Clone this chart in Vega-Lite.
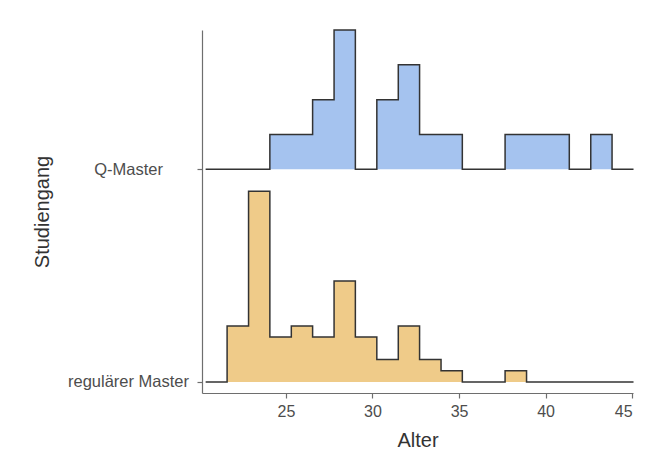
{
  "$schema": "https://vega.github.io/schema/vega-lite/v6.json",
  "width": 431,
  "height": 363,
  "autosize": {"type": "none"},
  "padding": {"left": 202, "top": 30, "right": 14, "bottom": 75},
  "background": "white",
  "config": {
    "view": {"stroke": null},
    "font": "Liberation Sans",
    "axis": {
      "grid": false,
      "domainColor": "#6e6e6e",
      "domainWidth": 1.2,
      "tickColor": "#6e6e6e",
      "tickWidth": 1.2,
      "labelColor": "#4d4d4d",
      "titleColor": "#333333",
      "labelFont": "Liberation Sans",
      "titleFont": "Liberation Sans",
      "labelFontSize": 16,
      "titleFontSize": 20,
      "titleFontWeight": "normal"
    }
  },
  "datasets": {
    "q": [
      {"Studiengang": "Q-Master", "Alter": 20.36, "Anzahl": 0},
      {"Studiengang": "Q-Master", "Alter": 21.60, "Anzahl": 0},
      {"Studiengang": "Q-Master", "Alter": 22.84, "Anzahl": 0},
      {"Studiengang": "Q-Master", "Alter": 24.07, "Anzahl": 1},
      {"Studiengang": "Q-Master", "Alter": 25.31, "Anzahl": 1},
      {"Studiengang": "Q-Master", "Alter": 26.54, "Anzahl": 2},
      {"Studiengang": "Q-Master", "Alter": 27.78, "Anzahl": 4},
      {"Studiengang": "Q-Master", "Alter": 29.01, "Anzahl": 0},
      {"Studiengang": "Q-Master", "Alter": 30.25, "Anzahl": 2},
      {"Studiengang": "Q-Master", "Alter": 31.49, "Anzahl": 3},
      {"Studiengang": "Q-Master", "Alter": 32.72, "Anzahl": 1},
      {"Studiengang": "Q-Master", "Alter": 33.96, "Anzahl": 1},
      {"Studiengang": "Q-Master", "Alter": 35.19, "Anzahl": 0},
      {"Studiengang": "Q-Master", "Alter": 36.43, "Anzahl": 0},
      {"Studiengang": "Q-Master", "Alter": 37.66, "Anzahl": 1},
      {"Studiengang": "Q-Master", "Alter": 38.90, "Anzahl": 1},
      {"Studiengang": "Q-Master", "Alter": 40.13, "Anzahl": 1},
      {"Studiengang": "Q-Master", "Alter": 41.37, "Anzahl": 0},
      {"Studiengang": "Q-Master", "Alter": 42.61, "Anzahl": 1},
      {"Studiengang": "Q-Master", "Alter": 43.84, "Anzahl": 0},
      {"Studiengang": "Q-Master", "Alter": 45.08, "Anzahl": 0}
    ],
    "r": [
      {"Studiengang": "regulärer Master", "Alter": 20.36, "Anzahl": 0},
      {"Studiengang": "regulärer Master", "Alter": 21.60, "Anzahl": 5},
      {"Studiengang": "regulärer Master", "Alter": 22.84, "Anzahl": 17},
      {"Studiengang": "regulärer Master", "Alter": 24.07, "Anzahl": 4},
      {"Studiengang": "regulärer Master", "Alter": 25.31, "Anzahl": 5},
      {"Studiengang": "regulärer Master", "Alter": 26.54, "Anzahl": 4},
      {"Studiengang": "regulärer Master", "Alter": 27.78, "Anzahl": 9},
      {"Studiengang": "regulärer Master", "Alter": 29.01, "Anzahl": 4},
      {"Studiengang": "regulärer Master", "Alter": 30.25, "Anzahl": 2},
      {"Studiengang": "regulärer Master", "Alter": 31.49, "Anzahl": 5},
      {"Studiengang": "regulärer Master", "Alter": 32.72, "Anzahl": 2},
      {"Studiengang": "regulärer Master", "Alter": 33.96, "Anzahl": 1},
      {"Studiengang": "regulärer Master", "Alter": 35.19, "Anzahl": 0},
      {"Studiengang": "regulärer Master", "Alter": 36.43, "Anzahl": 0},
      {"Studiengang": "regulärer Master", "Alter": 37.66, "Anzahl": 1},
      {"Studiengang": "regulärer Master", "Alter": 38.90, "Anzahl": 0},
      {"Studiengang": "regulärer Master", "Alter": 40.13, "Anzahl": 0},
      {"Studiengang": "regulärer Master", "Alter": 41.37, "Anzahl": 0},
      {"Studiengang": "regulärer Master", "Alter": 42.61, "Anzahl": 0},
      {"Studiengang": "regulärer Master", "Alter": 43.84, "Anzahl": 0},
      {"Studiengang": "regulärer Master", "Alter": 45.08, "Anzahl": 0}
    ],
    "cats": [
      {"Studiengang": "Q-Master"},
      {"Studiengang": "regulärer Master"}
    ]
  },
  "layer": [
    {
      "data": {"name": "q"},
      "encoding": {
        "x": {
          "field": "Alter",
          "type": "quantitative",
          "scale": {"domain": [20.15, 45.05], "nice": false, "zero": false},
          "axis": {"title": "Alter", "values": [25, 30, 35, 40, 45], "tickSize": 5, "labelPadding": 5, "titlePadding": 11}
        },
        "y": {
          "field": "Anzahl",
          "type": "quantitative",
          "scale": {"domain": [-6.42, 4.0], "nice": false, "zero": false},
          "axis": null
        }
      },
      "layer": [
        {"mark": {"type": "area", "interpolate": "step-after", "color": "#a5c3ef"}, "encoding": {"y2": {"datum": 0}}},
        {"mark": {"type": "line", "interpolate": "step-after", "color": "#333333", "strokeWidth": 1.5}}
      ]
    },
    {
      "data": {"name": "r"},
      "encoding": {
        "x": {"field": "Alter", "type": "quantitative"},
        "y": {
          "field": "Anzahl",
          "type": "quantitative",
          "scale": {"domain": [-0.98, 31.37], "nice": false, "zero": false},
          "axis": null
        }
      },
      "layer": [
        {"mark": {"type": "area", "interpolate": "step-after", "color": "#efcb89"}, "encoding": {"y2": {"datum": 0}}},
        {"mark": {"type": "line", "interpolate": "step-after", "color": "#333333", "strokeWidth": 1.5}}
      ]
    },
    {
      "data": {"name": "cats"},
      "mark": {"type": "point", "opacity": 0},
      "encoding": {
        "y": {
          "field": "Studiengang",
          "type": "nominal",
          "scale": {"type": "point", "padding": 0.3533, "align": 0.9268},
          "axis": {"title": "Studiengang", "labelAlign": "center", "labelPadding": 69, "tickSize": 5, "titlePadding": 15, "labelFontSize": 16.5}
        }
      }
    }
  ],
  "resolve": {"scale": {"y": "independent"}, "axis": {"y": "independent"}}
}
